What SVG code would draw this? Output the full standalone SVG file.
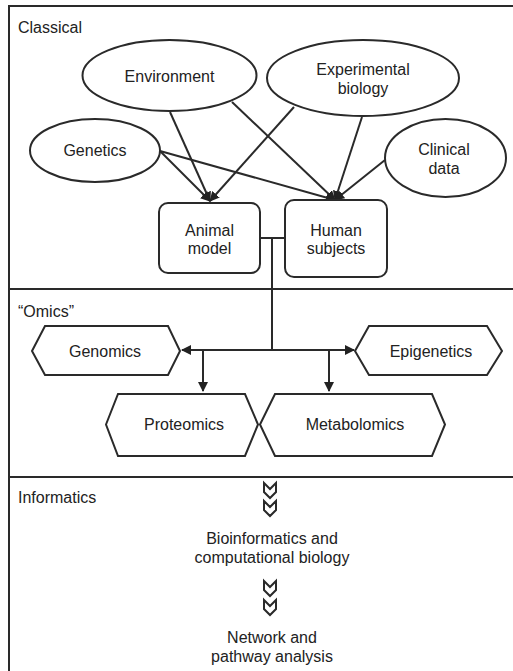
<svg xmlns="http://www.w3.org/2000/svg" width="513" height="671" viewBox="0 0 513 671">
<defs>
<style>
.s{fill:#fff;stroke:#2a2a2a;stroke-width:2}
.c{fill:none;stroke:#2a2a2a;stroke-width:2}
.t{font-family:"Liberation Sans",Arial,sans-serif;font-size:16px;fill:#222;text-anchor:middle}
.l{font-family:"Liberation Sans",Arial,sans-serif;font-size:16px;fill:#222}
.ch{fill:none;stroke:#2a2a2a;stroke-width:2;stroke-linejoin:miter}
</style>
<marker id="ah" viewBox="0 0 10 10" refX="9" refY="5" markerWidth="10" markerHeight="10" markerUnits="userSpaceOnUse" orient="auto">
<path d="M0,0 L10,5 L0,10 Z" fill="#222"/>
</marker>
</defs>
<rect width="513" height="671" fill="#fff"/>
<g id="frame">
<path class="c" d="M9,671 V6 H513 M9,289 H513 M9,477 H513"/>
<text class="l" x="18" y="33">Classical</text>
<text class="l" x="18" y="317">“Omics”</text>
<text class="l" x="18" y="503">Informatics</text>
</g>
<g id="connectors">
<line class="c" x1="170" y1="112" x2="210" y2="201" marker-end="url(#ah)"/>
<line class="c" x1="232" y1="102" x2="335" y2="200" marker-end="url(#ah)"/>
<line class="c" x1="294" y1="107" x2="210" y2="201" marker-end="url(#ah)"/>
<line class="c" x1="362" y1="117" x2="335" y2="200" marker-end="url(#ah)"/>
<line class="c" x1="160" y1="151" x2="210" y2="201" marker-end="url(#ah)"/>
<line class="c" x1="160" y1="151" x2="335" y2="200" marker-end="url(#ah)"/>
<line class="c" x1="385" y1="160" x2="335" y2="200" marker-end="url(#ah)"/>
<path class="c" d="M260,238 H285 M272,238 V350"/>
<line class="c" x1="272" y1="350" x2="182" y2="350" marker-end="url(#ah)"/>
<line class="c" x1="272" y1="350" x2="354" y2="350" marker-end="url(#ah)"/>
<line class="c" x1="203" y1="350" x2="203" y2="391" marker-end="url(#ah)"/>
<line class="c" x1="329" y1="350" x2="329" y2="391" marker-end="url(#ah)"/>
<path class="ch" d="M264,483 L270,489 L276,483 V492 L270,498 L264,492 Z"/>
<path class="ch" d="M264,501 L270,507 L276,501 V510 L270,516 L264,510 Z"/>
<path class="ch" d="M264,581 L270,587 L276,581 V590 L270,596 L264,590 Z"/>
<path class="ch" d="M264,600 L270,606 L276,600 V609 L270,615 L264,609 Z"/>
</g>
<g id="environment">
<ellipse class="s" cx="169.5" cy="75.5" rx="87" ry="35.5"/>
<text class="t" x="169.5" y="82">Environment</text>
</g>
<g id="experimental-biology">
<ellipse class="s" cx="363" cy="78" rx="96" ry="38"/>
<text class="t" x="363" y="75">Experimental</text>
<text class="t" x="363" y="94">biology</text>
</g>
<g id="genetics">
<ellipse class="s" cx="95" cy="150.5" rx="65" ry="31.5"/>
<text class="t" x="95" y="156">Genetics</text>
</g>
<g id="clinical-data">
<ellipse class="s" cx="445.5" cy="158" rx="60.5" ry="39"/>
<text class="t" x="444" y="155">Clinical</text>
<text class="t" x="444" y="174">data</text>
</g>
<g id="animal-model">
<rect class="s" x="159" y="203" width="101" height="70" rx="9"/>
<text class="t" x="209.5" y="236">Animal</text>
<text class="t" x="209.5" y="254">model</text>
</g>
<g id="human-subjects">
<rect class="s" x="285" y="200" width="102" height="77" rx="9"/>
<text class="t" x="336" y="236">Human</text>
<text class="t" x="336" y="254">subjects</text>
</g>
<g id="genomics">
<path class="s" d="M32,351 L45,326 H168 L180,351 L168,375 H45 Z"/>
<text class="t" x="105" y="357">Genomics</text>
</g>
<g id="epigenetics">
<path class="s" d="M355,351 L369,326 H487 L502,351 L487,375 H369 Z"/>
<text class="t" x="431" y="357">Epigenetics</text>
</g>
<g id="proteomics">
<path class="s" d="M106,424.5 L118,394 H245 L258,424.5 L245,456 H118 Z"/>
<text class="t" x="184" y="430">Proteomics</text>
</g>
<g id="metabolomics">
<path class="s" d="M260,424.5 L275,394 H432 L445,424.5 L432,456 H275 Z"/>
<text class="t" x="355" y="430">Metabolomics</text>
</g>
<g id="bioinformatics">
<text class="t" x="272" y="544">Bioinformatics and</text>
<text class="t" x="272" y="563">computational biology</text>
</g>
<g id="network">
<text class="t" x="272" y="643">Network and</text>
<text class="t" x="272" y="662">pathway analysis</text>
</g>
</svg>
